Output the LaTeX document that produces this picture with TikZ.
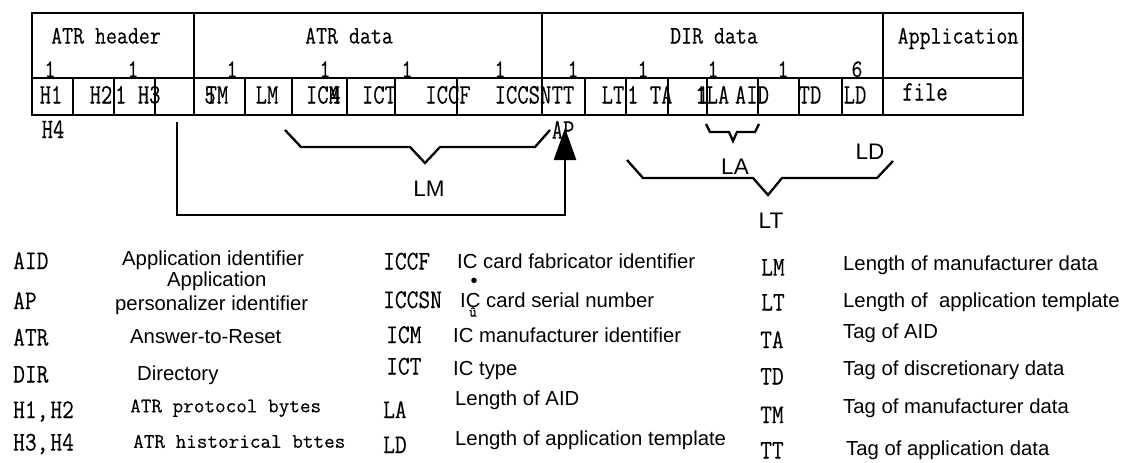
\documentclass[tikz,border=0pt]{standalone}
\usepackage{fontspec}
\setmainfont{Liberation Sans}
\setmonofont{Latin Modern Mono}[FakeBold=0.3]
\usepackage{graphicx}
\usetikzlibrary{arrows.meta}
\newcommand{\vsA}[1]{\scalebox{1}[1.18]{#1}}
\newcommand{\vsB}[1]{\scalebox{1}[1.28]{#1}}
\newcommand{\vsC}[1]{\scalebox{1}[1.18]{#1}}
\begin{document}
\begin{tikzpicture}[x=1pt,y=-1pt,
  box/.style={line width=2.6pt},
  brk/.style={line width=2.3pt,line join=miter,line cap=butt},
  hdr/.style={inner sep=0pt,text height=15pt,text depth=0pt,font=\fontsize{21.3}{22}\selectfont\ttfamily},
  cell/.style={inner sep=0pt,text height=17pt,text depth=0pt,font=\fontsize{22}{23}\selectfont\ttfamily},
  abbr/.style={inner sep=0pt,anchor=west,text height=16pt,text depth=0pt,font=\fontsize{22.8}{23}\selectfont\ttfamily},
  mdesc/.style={inner sep=0pt,anchor=west,text height=12.6pt,text depth=0pt,font=\fontsize{20.6}{21}\selectfont\ttfamily},
  sdesc/.style={inner sep=0pt,anchor=west,text height=14.4pt,text depth=0pt,font=\fontsize{20.3}{21}\selectfont},
  blab/.style={inner sep=0pt,text height=16pt,text depth=0pt,font=\fontsize{22.5}{23}\selectfont}
]
\useasboundingbox (0,0) rectangle (1125,463);
% frame
\draw[box] (32,13) rectangle (1023,115);
\draw[box] (32,78) -- (1023,78);
\foreach \x in {194,542,883} \draw[box] (\x,12) -- (\x,116);
\foreach \x in {73,114,155,245,292,347,395,457,585,626,668,707,758,799,842}
  \draw[box] (\x,78) -- (\x,115);
% section headers
\node[hdr] (h1) at (106,36) {\vsA{ATR header}};
\node[hdr] (h2) at (349,36) {\vsA{ATR data}};
\node[hdr] (h3) at (714,36) {\vsA{DIR data}};
\node[hdr] (h4) at (958,36) {\vsA{Application}};
% lengths
\foreach \x/\t [count=\i] in {50/1,133/1,232/1,325/1,407/1,500/1,573/1,643/1,713/1,783/1,857/6}
  \node[hdr] (n\i) at (\x,69.5) {\vsA{\t}};
% cell texts
\node[cell] (c1) at (51,95) {\vsB{H1}};
\node[cell] (c2) at (101,95) {\vsB{H2}};
\node[cell,anchor=west] (c3) at (115,95) {\vsB{1 H3}};
\node[cell] (c4) at (217,95) {\vsB{TM}};
\node[cell] (c4b) at (210,95) {\vsB{5}};
\node[cell] (c5) at (267,95) {\vsB{LM}};
\node[cell] (c6) at (323,95) {\vsB{ICM}};
\node[cell] (c6b) at (335,95) {\vsB{4}};
\node[cell] (c7) at (379,95) {\vsB{ICT}};
\node[cell] (c8) at (448,95) {\vsB{ICCF}};
\node[cell] (c9) at (523,95) {\vsB{ICCSN}};
\node[cell] (c10) at (563,95) {\vsB{TT}};
\node[cell] (c11) at (613,95) {\vsB{LT}};
\node[cell,anchor=west] (c12) at (627,95) {\vsB{1 TA}};
\node[cell] (c13) at (701,95) {\vsB{1}};
\node[cell] (c13b) at (703,95) {\vsB{1}};
\node[cell] (c14) at (718,95) {\vsB{LA}};
\node[cell] (c15) at (752,95) {\vsB{AID}};
\node[cell] (c16) at (810,95) {\vsB{TD}};
\node[cell] (c17) at (855,95) {\vsB{LD}};
\node[cell] (c18) at (925,92) {\vsB{file}};
\node[cell] (c19) at (53,129.5) {\vsB{H4}};
\node[cell] (ap) at (563,130) {\vsB{AP}};
% brackets
\draw[brk] (285,130) -- (301,147) -- (410,147) -- (425,163) -- (440,147) -- (535,147) -- (550,130);
\node[blab] (lm) at (429,188) {LM};
\draw[brk] (706,124) -- (710,132) -- (729,132) -- (733,141) -- (737,132) -- (755,132) -- (759,124);
\node[blab] (la) at (735,166) {LA};
\draw[brk] (627,160) -- (643,178) -- (753,178) -- (768,195) -- (782,178) -- (877,178) -- (893,161);
\node[blab] (ld) at (870,151) {LD};
\node[blab] (lt) at (771,220) {LT};
% arrow
\coordinate (as) at (177,122);
\coordinate (at) at (565,128);
\draw[line width=2.5pt,-{Triangle[length=32pt,width=22pt]}] (as) -- (as |- 0,215) -- (at |- 0,215) -- (at);
% legend column 1
\node[abbr] (a1) at (13,261) {\vsC{AID}};
\node[abbr] (a2) at (13,301) {\vsC{AP}};
\node[abbr] (a3) at (13,337.5) {\vsC{ATR}};
\node[abbr] (a4) at (13,374.5) {\vsC{DIR}};
\node[abbr] (a5) at (13,410) {\vsC{H1,\hspace{2pt}H2}};
\node[abbr] (a6) at (13,442.5) {\vsC{H3,\hspace{2pt}H4}};
\node[sdesc] (d1) at (122,258) {Application identifier};
\node[sdesc] (d2) at (167,279.5) {Application};
\node[sdesc] (d2b) at (115,303.5) {personalizer identifier};
\node[sdesc] (d3) at (130,336.5) {Answer-to-Reset};
\node[sdesc] (d4) at (137,373) {Directory};
\node[mdesc] (d5) at (130,406) {ATR protocol bytes};
\node[mdesc] (d6) at (133,441.5) {ATR historical bttes};
% legend column 2
\node[abbr] (b1) at (383,261.5) {\vsC{ICCF}};
\node[abbr] (b2) at (383,300) {\vsC{ICCSN}};
\node[abbr] (b3) at (386,335) {\vsC{ICM}};
\node[abbr] (b4) at (386,366.5) {\vsC{ICT}};
\node[abbr] (b5) at (383,410) {\vsC{LA}};
\node[abbr] (b6) at (383,445) {\vsC{LD}};
\node[sdesc] (e1) at (457,261) {IC card fabricator identifier};
\node[sdesc] (e2) at (460,300.5) {IC card serial number};
\node[sdesc] (e3) at (453,335) {IC manufacturer identifier};
\node[sdesc] (e4) at (453,368.5) {IC type};
\node[sdesc] (e5) at (455,398.5) {Length of AID};
\node[sdesc] (e6) at (455,438.5) {Length of application template};
\node[inner sep=0pt,font=\fontsize{20}{20}\selectfont] (bu) at (474,283) {\textbullet};
\node[inner sep=0pt,font=\fontsize{15}{15}\selectfont\ttfamily] (uu) at (473,312) {û};
% legend column 3
\node[abbr] (f1) at (761,267.5) {\vsC{LM}};
\node[abbr] (f2) at (761,302.5) {\vsC{LT}};
\node[abbr] (f3) at (760,340) {\vsC{TA}};
\node[abbr] (f4) at (760,376.5) {\vsC{TD}};
\node[abbr] (f5) at (760,415) {\vsC{TM}};
\node[abbr] (f6) at (760,450.5) {\vsC{TT}};
\node[sdesc] (g1) at (843,263) {Length of manufacturer data};
\node[sdesc] (g2) at (843,300) {Length of \ application template};
\node[sdesc] (g3) at (843,331.5) {Tag of AID};
\node[sdesc] (g4) at (843,368.5) {Tag of discretionary data};
\node[sdesc] (g5) at (843,406.5) {Tag of manufacturer data};
\node[sdesc] (g6) at (846,448.5) {Tag of application data};
\end{tikzpicture}
\end{document}
